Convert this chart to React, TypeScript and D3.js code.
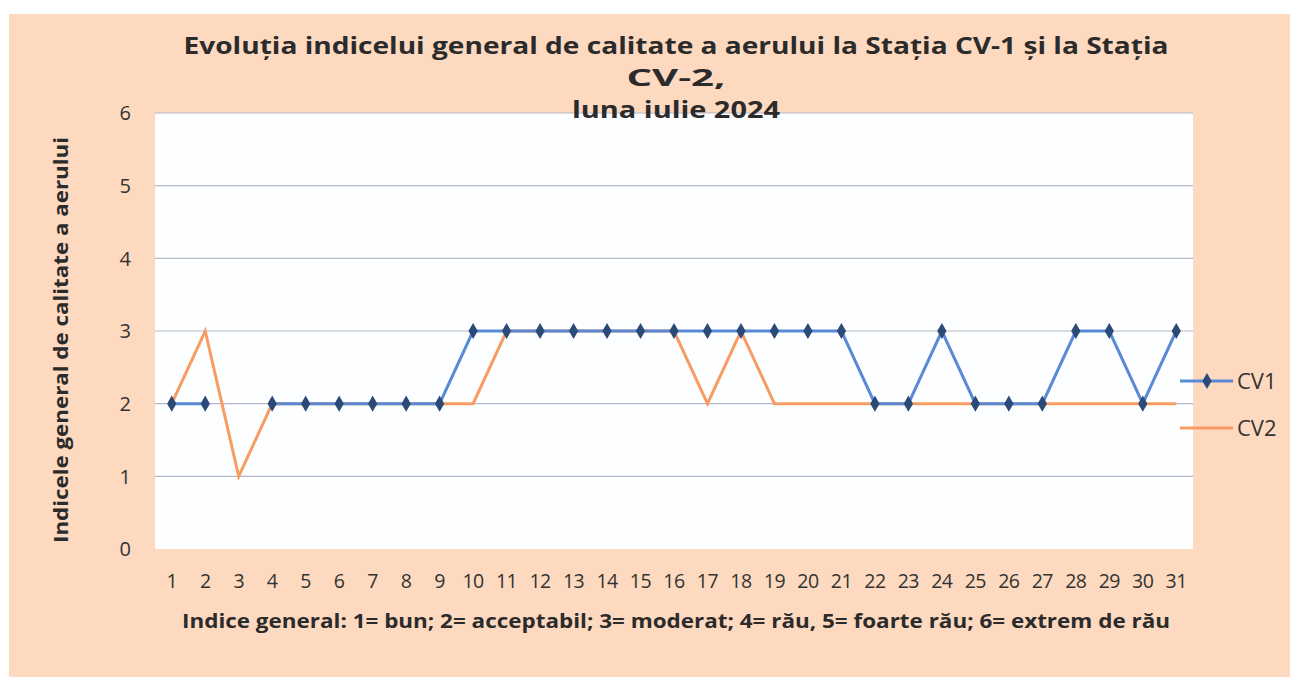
import React from "react";
import * as d3 from "d3";

const days = d3.range(1, 32).map(String);
const cv1: (number | null)[] = [
  2, 2, null, 2, 2, 2, 2, 2, 2, 3, 3, 3, 3, 3, 3, 3, 3, 3, 3, 3, 3, 2, 2, 3, 2,
  2, 2, 3, 3, 2, 3,
];
const cv2: number[] = [
  2, 3, 1, 2, 2, 2, 2, 2, 2, 2, 3, 3, 3, 3, 3, 3, 2, 3, 2, 2, 2, 2, 2, 2, 2, 2,
  2, 2, 2, 2, 2,
];
const yTicks = [0, 1, 2, 3, 4, 5, 6];
const titleLines = [
  "Evoluția indicelui general de calitate a aerului la Stația CV-1  și la Stația",
  "CV-2,",
  "luna iulie 2024",
];
const yTitle = "Indicele general  de calitate a aerului";
const footnote =
  "Indice general: 1= bun; 2= acceptabil; 3= moderat; 4= rău, 5= foarte rău; 6= extrem de rău";

const W = 1296;
const H = 677;
const font = "'Open Sans', Lato, sans-serif";
const blue = "#5a8ad6";
const marker = "#2c4a78";
const orange = "#f79c62";
const peach = "#fdd9bf";

// widths of the scanned text, so the lines span the same room
const titleWidths = [985, 99, 208];

const App = () => {
  const plot = { left: 155, right: 1193, top: 113, bottom: 549 };

  const x = d3
    .scaleBand()
    .domain(days)
    .range([plot.left, plot.right])
    .paddingInner(0);
  const cx = (d: string) => (x(d) ?? 0) + x.bandwidth() / 2;

  const y = d3.scaleLinear().domain([0, 6]).range([plot.bottom, plot.top]);

  const line = d3
    .line<number | null>()
    .defined((d) => d !== null)
    .x((_, i) => cx(days[i]))
    .y((d) => y(d as number));

  const diamond = d3.symbol().type(d3.symbolDiamond).size(75)();

  return (
    <svg
      width={W}
      height={H}
      style={{ display: "block", position: "absolute", left: 0, top: 0 }}
    >
      <rect width={W} height={H} fill="#ffffff" />
      <rect x={9} y={14} width={1281} height={H - 14} fill={peach} />

      <rect
        x={plot.left}
        y={plot.top}
        width={plot.right - plot.left}
        height={plot.bottom - plot.top}
        fill="#fdfeff"
      />

      {yTicks.map((t) => (
        <g key={t}>
          {t > 0 && (
            <line
              x1={plot.left}
              x2={plot.right}
              y1={y(t)}
              y2={y(t)}
              stroke="#b5b8c8"
              strokeWidth={1.2}
            />
          )}
          <text
            x={131}
            y={y(t)}
            dy="0.36em"
            textAnchor="end"
            fontFamily={font}
            fontSize={20}
            fill="#333"
          >
            {t}
          </text>
        </g>
      ))}

      {days.map((d) => (
        <text
          key={d}
          x={cx(d)}
          y={588}
          textAnchor="middle"
          fontFamily={font}
          fontSize={19.5}
          letterSpacing={-0.5}
          fill="#333"
        >
          {d}
        </text>
      ))}

      <path d={line(cv2) ?? ""} fill="none" stroke={orange} strokeWidth={3} />
      <path d={line(cv1) ?? ""} fill="none" stroke={blue} strokeWidth={3} />
      {cv1.map((v, i) =>
        v === null ? null : (
          <path
            key={i}
            d={diamond ?? ""}
            transform={`translate(${cx(days[i])},${y(v)})`}
            fill={marker}
          />
        )
      )}

      {titleLines.map((t, i) => (
        <text
          key={i}
          x={676}
          y={54 + i * 32}
          textAnchor="middle"
          fontFamily={font}
          fontWeight="bold"
          fontSize={24}
          fill="#2b2b2b"
          textLength={titleWidths[i]}
          lengthAdjust="spacingAndGlyphs"
        >
          {t}
        </text>
      ))}

      <text
        transform={`translate(68,340) rotate(-90)`}
        textAnchor="middle"
        fontFamily={font}
        fontWeight="bold"
        fontSize={20}
        fill="#2b2b2b"
        textLength={406}
        lengthAdjust="spacingAndGlyphs"
      >
        {yTitle}
      </text>

      <text
        x={676}
        y={628}
        textAnchor="middle"
        fontFamily={font}
        fontWeight="bold"
        fontSize={20}
        fill="#2b2b2b"
        textLength={988}
        lengthAdjust="spacingAndGlyphs"
      >
        {footnote}
      </text>

      <g fontFamily={font} fontSize={22} fill="#333">
        <line x1={1180} x2={1233} y1={381} y2={381} stroke={blue} strokeWidth={3} />
        <path d={diamond ?? ""} transform="translate(1207,381)" fill={marker} />
        <text x={1237} y={381} dy="0.36em">
          CV1
        </text>
        <line x1={1180} x2={1233} y1={428} y2={428} stroke={orange} strokeWidth={3} />
        <text x={1237} y={428} dy="0.36em">
          CV2
        </text>
      </g>
    </svg>
  );
};

export default App;
